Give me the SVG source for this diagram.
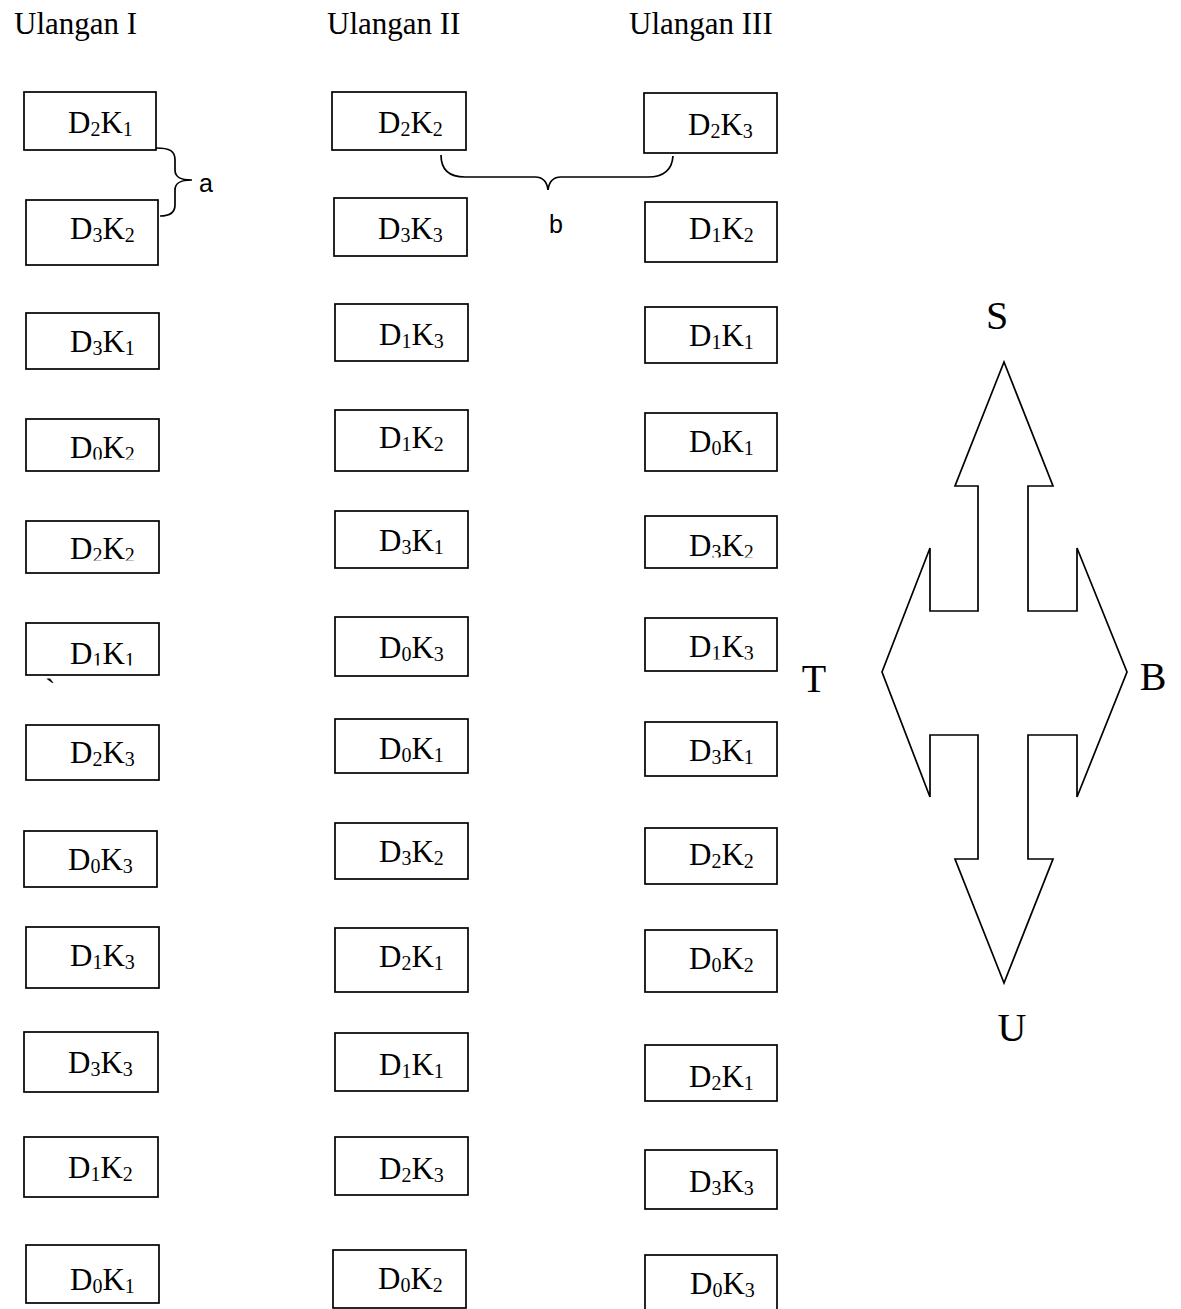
<svg xmlns="http://www.w3.org/2000/svg" width="1181" height="1309" viewBox="0 0 1181 1309">
<style>
rect.b{fill:#fff;stroke:#000;stroke-width:1.7}
text{font-family:"Liberation Serif","Times New Roman",serif;font-size:31px;fill:#000}
.s{font-size:20px}
.big{font-size:40px}
.lbl{font-family:"Liberation Sans",Arial,sans-serif;font-size:25px}
path.c{fill:none;stroke:#000;stroke-width:1.7}
</style>
<defs>
<clipPath id="c1"><rect x="0" y="400" width="200" height="59.5"/></clipPath>
<clipPath id="c2"><rect x="0" y="500" width="200" height="60.5"/></clipPath>
<clipPath id="c3"><rect x="0" y="600" width="200" height="65.5"/></clipPath>
<clipPath id="c4"><rect x="600" y="500" width="200" height="57.5"/></clipPath>
<clipPath id="c5"><rect x="600" y="600" width="200" height="59.5"/></clipPath>
</defs>
<rect width="1181" height="1309" fill="#fff"/>

<g id="headers">
<text x="14" y="34">Ulangan I</text>
<text x="327" y="34">Ulangan II</text>
<text x="629" y="34">Ulangan III</text>
</g>

<!-- Column 1 -->
<g id="u1-1"><rect class="b" x="24" y="92" width="132" height="58"/><text x="68" y="133">D<tspan class="s" dy="3">2</tspan><tspan dy="-3">K</tspan><tspan class="s" dy="3">1</tspan></text></g>
<g id="u1-2"><rect class="b" x="26" y="200" width="132" height="65"/><text x="70" y="239">D<tspan class="s" dy="3">3</tspan><tspan dy="-3">K</tspan><tspan class="s" dy="3">2</tspan></text></g>
<g id="u1-3"><rect class="b" x="26" y="313" width="133" height="56"/><text x="70" y="352">D<tspan class="s" dy="3">3</tspan><tspan dy="-3">K</tspan><tspan class="s" dy="3">1</tspan></text></g>
<g id="u1-4"><rect class="b" x="26" y="419" width="133" height="52"/><text x="70" y="458" clip-path="url(#c1)">D<tspan class="s" dy="3">0</tspan><tspan dy="-3">K</tspan><tspan class="s" dy="3">2</tspan></text></g>
<g id="u1-5"><rect class="b" x="26" y="521" width="133" height="52"/><text x="70" y="559" clip-path="url(#c2)">D<tspan class="s" dy="3">2</tspan><tspan dy="-3">K</tspan><tspan class="s" dy="3">2</tspan></text></g>
<g id="u1-6"><rect class="b" x="26" y="623" width="133" height="52"/><text x="70" y="664" clip-path="url(#c3)">D<tspan class="s" dy="3">1</tspan><tspan dy="-3">K</tspan><tspan class="s" dy="3">1</tspan></text><text x="45" y="700">`</text></g>
<g id="u1-7"><rect class="b" x="26" y="725" width="133" height="55"/><text x="70" y="763">D<tspan class="s" dy="3">2</tspan><tspan dy="-3">K</tspan><tspan class="s" dy="3">3</tspan></text></g>
<g id="u1-8"><rect class="b" x="24" y="831" width="133" height="56"/><text x="68" y="870">D<tspan class="s" dy="3">0</tspan><tspan dy="-3">K</tspan><tspan class="s" dy="3">3</tspan></text></g>
<g id="u1-9"><rect class="b" x="26" y="927" width="133" height="61"/><text x="70" y="966">D<tspan class="s" dy="3">1</tspan><tspan dy="-3">K</tspan><tspan class="s" dy="3">3</tspan></text></g>
<g id="u1-10"><rect class="b" x="24" y="1032" width="134" height="60"/><text x="68" y="1073">D<tspan class="s" dy="3">3</tspan><tspan dy="-3">K</tspan><tspan class="s" dy="3">3</tspan></text></g>
<g id="u1-11"><rect class="b" x="24" y="1137" width="134" height="60"/><text x="68" y="1178">D<tspan class="s" dy="3">1</tspan><tspan dy="-3">K</tspan><tspan class="s" dy="3">2</tspan></text></g>
<g id="u1-12"><rect class="b" x="26" y="1245" width="133" height="58"/><text x="70" y="1290">D<tspan class="s" dy="3">0</tspan><tspan dy="-3">K</tspan><tspan class="s" dy="3">1</tspan></text></g>

<!-- Column 2 -->
<g id="u2-1"><rect class="b" x="332" y="92" width="134" height="58"/><text x="378" y="133">D<tspan class="s" dy="3">2</tspan><tspan dy="-3">K</tspan><tspan class="s" dy="3">2</tspan></text></g>
<g id="u2-2"><rect class="b" x="334" y="198" width="133" height="58"/><text x="378" y="239">D<tspan class="s" dy="3">3</tspan><tspan dy="-3">K</tspan><tspan class="s" dy="3">3</tspan></text></g>
<g id="u2-3"><rect class="b" x="335" y="304" width="133" height="57"/><text x="379" y="345">D<tspan class="s" dy="3">1</tspan><tspan dy="-3">K</tspan><tspan class="s" dy="3">3</tspan></text></g>
<g id="u2-4"><rect class="b" x="335" y="410" width="133" height="61"/><text x="379" y="448">D<tspan class="s" dy="3">1</tspan><tspan dy="-3">K</tspan><tspan class="s" dy="3">2</tspan></text></g>
<g id="u2-5"><rect class="b" x="335" y="511" width="133" height="57"/><text x="379" y="551">D<tspan class="s" dy="3">3</tspan><tspan dy="-3">K</tspan><tspan class="s" dy="3">1</tspan></text></g>
<g id="u2-6"><rect class="b" x="335" y="617" width="133" height="59"/><text x="379" y="658">D<tspan class="s" dy="3">0</tspan><tspan dy="-3">K</tspan><tspan class="s" dy="3">3</tspan></text></g>
<g id="u2-7"><rect class="b" x="335" y="719" width="133" height="54"/><text x="379" y="759">D<tspan class="s" dy="3">0</tspan><tspan dy="-3">K</tspan><tspan class="s" dy="3">1</tspan></text></g>
<g id="u2-8"><rect class="b" x="335" y="823" width="133" height="56"/><text x="379" y="862">D<tspan class="s" dy="3">3</tspan><tspan dy="-3">K</tspan><tspan class="s" dy="3">2</tspan></text></g>
<g id="u2-9"><rect class="b" x="335" y="928" width="133" height="64"/><text x="379" y="967">D<tspan class="s" dy="3">2</tspan><tspan dy="-3">K</tspan><tspan class="s" dy="3">1</tspan></text></g>
<g id="u2-10"><rect class="b" x="335" y="1033" width="133" height="58"/><text x="379" y="1075">D<tspan class="s" dy="3">1</tspan><tspan dy="-3">K</tspan><tspan class="s" dy="3">1</tspan></text></g>
<g id="u2-11"><rect class="b" x="335" y="1137" width="133" height="58"/><text x="379" y="1179">D<tspan class="s" dy="3">2</tspan><tspan dy="-3">K</tspan><tspan class="s" dy="3">3</tspan></text></g>
<g id="u2-12"><rect class="b" x="333" y="1250" width="133" height="58"/><text x="378" y="1289">D<tspan class="s" dy="3">0</tspan><tspan dy="-3">K</tspan><tspan class="s" dy="3">2</tspan></text></g>

<!-- Column 3 -->
<g id="u3-1"><rect class="b" x="644" y="93" width="133" height="60"/><text x="688" y="135">D<tspan class="s" dy="3">2</tspan><tspan dy="-3">K</tspan><tspan class="s" dy="3">3</tspan></text></g>
<g id="u3-2"><rect class="b" x="645" y="202" width="132" height="60"/><text x="689" y="239">D<tspan class="s" dy="3">1</tspan><tspan dy="-3">K</tspan><tspan class="s" dy="3">2</tspan></text></g>
<g id="u3-3"><rect class="b" x="645" y="307" width="132" height="56"/><text x="689" y="346">D<tspan class="s" dy="3">1</tspan><tspan dy="-3">K</tspan><tspan class="s" dy="3">1</tspan></text></g>
<g id="u3-4"><rect class="b" x="645" y="413" width="132" height="58"/><text x="689" y="452">D<tspan class="s" dy="3">0</tspan><tspan dy="-3">K</tspan><tspan class="s" dy="3">1</tspan></text></g>
<g id="u3-5"><rect class="b" x="645" y="516" width="132" height="52"/><text x="689" y="556" clip-path="url(#c4)">D<tspan class="s" dy="3">3</tspan><tspan dy="-3">K</tspan><tspan class="s" dy="3">2</tspan></text></g>
<g id="u3-6"><rect class="b" x="645" y="618" width="132" height="53"/><text x="689" y="657" clip-path="url(#c5)">D<tspan class="s" dy="3">1</tspan><tspan dy="-3">K</tspan><tspan class="s" dy="3">3</tspan></text></g>
<g id="u3-7"><rect class="b" x="645" y="722" width="132" height="54"/><text x="689" y="761">D<tspan class="s" dy="3">3</tspan><tspan dy="-3">K</tspan><tspan class="s" dy="3">1</tspan></text></g>
<g id="u3-8"><rect class="b" x="645" y="828" width="132" height="56"/><text x="689" y="865">D<tspan class="s" dy="3">2</tspan><tspan dy="-3">K</tspan><tspan class="s" dy="3">2</tspan></text></g>
<g id="u3-9"><rect class="b" x="645" y="930" width="132" height="62"/><text x="689" y="969">D<tspan class="s" dy="3">0</tspan><tspan dy="-3">K</tspan><tspan class="s" dy="3">2</tspan></text></g>
<g id="u3-10"><rect class="b" x="645" y="1045" width="132" height="56"/><text x="689" y="1087">D<tspan class="s" dy="3">2</tspan><tspan dy="-3">K</tspan><tspan class="s" dy="3">1</tspan></text></g>
<g id="u3-11"><rect class="b" x="645" y="1150" width="132" height="59"/><text x="689" y="1192">D<tspan class="s" dy="3">3</tspan><tspan dy="-3">K</tspan><tspan class="s" dy="3">3</tspan></text></g>
<g id="u3-12"><rect class="b" x="645" y="1255" width="132" height="60"/><text x="690" y="1294">D<tspan class="s" dy="3">0</tspan><tspan dy="-3">K</tspan><tspan class="s" dy="3">3</tspan></text></g>

<!-- Braces -->
<g id="connectors">
<path class="c" d="M156,148 C170,148 175,151 175,160 L175,170 C175,177 180,180 192,180 C180,180 175,183 175,190 L175,205 C175,213 170,216 160,216"/>
<path class="c" d="M441,155 C441,170 450,177 465,177 L535,177 C543,177 547,182 548,190 C549,182 553,177 561,177 L648,177 C663,177 672,170 673,156"/>
<text class="lbl" x="199" y="192">a</text>
<text class="lbl" x="549" y="233">b</text>
</g>

<!-- Compass -->
<g id="compass">
<polygon points="1004,362 1053,486 1028,486 1028,611 1077,611 1077,548 1127,672 1077,797 1077,735 1028,735 1028,859 1053,859 1004,983 955,859 978,859 978,735 930,735 930,797 882,672 930,548 930,611 978,611 978,486 955,486" fill="none" stroke="#000" stroke-width="1.7" stroke-linejoin="miter"/>
<text class="big" x="997" y="329" text-anchor="middle">S</text>
<text class="big" x="1012" y="1041" text-anchor="middle">U</text>
<text class="big" x="814" y="692" text-anchor="middle">T</text>
<text class="big" x="1153" y="690" text-anchor="middle">B</text>
</g>
</svg>
